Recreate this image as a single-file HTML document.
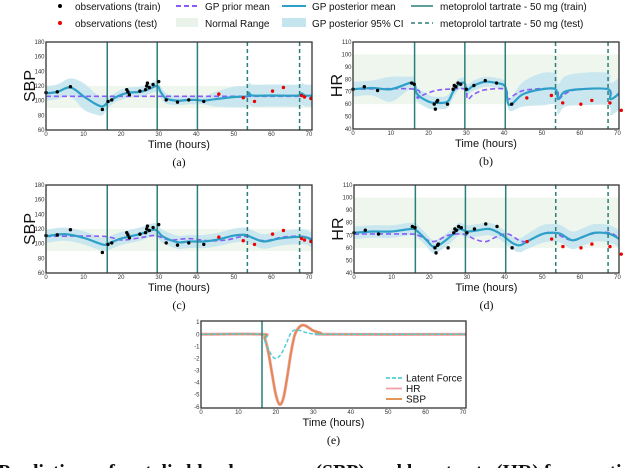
<!DOCTYPE html>
<html><head><meta charset="utf-8">
<style>
html,body{margin:0;padding:0;background:#fff;overflow:hidden;}
svg{display:block;font-family:"Liberation Sans",sans-serif;}
.tk{font-size:6px;fill:#333;}
.xl{font-size:11px;fill:#111;}
.cap{font-family:"Liberation Serif",serif;font-size:12px;fill:#111;}
.lg{font-size:10px;fill:#111;}
</style></head>
<body>
<svg id="fig" width="640" height="468" viewBox="0 0 640 468">
<g id="legend">
  <g><circle cx="60" cy="6" r="2" fill="#000"/><text class="lg" x="75" y="10">observations (train)</text></g>
  <g><circle cx="60" cy="23" r="2" fill="#e00"/><text class="lg" x="75" y="27">observations (test)</text></g>
  <g><line x1="176" y1="6" x2="198" y2="6" stroke="#8a5cf5" stroke-width="2" stroke-dasharray="5,3"/><text class="lg" x="205" y="10">GP prior mean</text></g>
  <g><rect x="176" y="18" width="22" height="9" fill="#e9f3ea"/><text class="lg" x="205" y="27">Normal Range</text></g>
  <g><line x1="282" y1="6" x2="306" y2="6" stroke="#2ea0c8" stroke-width="2"/><text class="lg" x="312" y="10">GP posterior mean</text></g>
  <g><rect x="282" y="18" width="24" height="9" fill="#c5e5ee"/><text class="lg" x="312" y="27">GP posterior 95% CI</text></g>
  <g><line x1="411" y1="6" x2="433" y2="6" stroke="#2a7f7a" stroke-width="1.5"/><text class="lg" x="440" y="10">metoprolol tartrate - 50 mg (train)</text></g>
  <g><line x1="411" y1="23" x2="433" y2="23" stroke="#2a7f7a" stroke-width="1.5" stroke-dasharray="4,3"/><text class="lg" x="440" y="27">metoprolol tartrate - 50 mg (test)</text></g>
</g>
</svg>
<script>
// ---------- data ----------
const treatTrain = [16.3, 29.6, 40.3];
const treatTest = [53.6, 67.5];
const treatE = [16.3];
const xTicks = [0,10,20,30,40,50,60,70];
const sbpTicks = [60,80,100,120,140,160,180];
const hrTicks = [40,50,60,70,80,90,100,110];
const forceTicks = [-6,-5,-4,-3,-2,-1,0,1];
const sbpNormal = [90,120];
const hrNormal = [60,100];

const sbpTrainT = [0,3,6.5,15,16.5,17.5,21.5,21.8,22.2,25,26.5,26.8,27,27.5,28.5,30,32,35,38,42];
const sbpTrainV = [111,112,119,88,99,101,115,112,108,113,115,120,124,118,122,126,101,98,101,99];
const sbpTestT = [46,52.5,55.5,60.3,63.2,68,68.8,70.5];
const sbpTestV = [109,104,99,113,118,107,105,103];
const hrTrainT = [0,3,6.5,15.5,16.2,21.5,21.8,22.2,22.4,25,26.5,26.8,27.2,27.8,28.5,30,32,35,38,42];
const hrTrainV = [72,74,71,77,76,60,56,62,63,60,72,75,74,77,76,72,75,79,77,60];
const hrTestT = [46,52.5,55.5,60.3,63.2,68,71];
const hrTestV = [65,67,61,60,63,61,55];

// panel (a)
const aPriorT = [0,71];
const aPriorV = [106,106];
const aPostT = [0,3,6.5,10,13,15,16.3,18,20,22,25,27,29.6,30.5,32,35,38,40,42,45,50,53.6,54,55,60,67.5,68,69,71];
const aPostV = [110,112,118,106,96,92,97,103,108,111,112,115,120,112,103,100,101,101,100,102,105,106,111,107,107,107,110,107,107];
const aCiT = [0,5,10,15,17,20,25,28,30,35,40,42,45,50,55,60,71];
const aCiW = [10,10,18,12,6,7,7,7,8,6,6,5,10,14,15,15,15];
// panel (b)
const bPriorT = [0,16.3,17,19,22,25,29.6,30.3,32,35,40.3,41,43,46,53.6,54.3,56,59,67.5,68.2,70,71];
const bPriorV = [72,72,65,68,71,72,72,64,68,71.5,72,64,68,71.5,72,64,68,71.5,72,64,68,70];
const bPostT = [0,5,10,15,16.3,17,20,22,25,26.5,28,29.6,30,32,35,38,40.3,41,42,45,50,53.6,54.3,56,60,67.5,68.2,71];
const bPostV = [72,73,72,77,76,68,62,61,62,70,76,77,71,75,78,77,74,61,60,68,72,72,64,70,72,72,64,70];
const bCiT = [0,5,8,12,15,18,22,26,30,35,38,41,45,50,55,60,67,71];
const bCiW = [6,6,10,10,5,6,5,5,4,4,4,4,10,13,12,13,13,13];
// panel (c)
const cPriorT = [0,15,20,25,29,33,38,43,48,53,58,63,68,71];
const cPriorV = [110,110,105,108,111,105,107,104,105,110,104,109,110,106];
const cPostT = [0,5,10,15,16.5,20,25,29,31,35,38,42,46,50,53,55,58,62,66,69,71];
const cPostV = [110,113,108,99,100,107,113,119,110,102,103,103,106,111,112,108,103,107,109,109,104];
const cCiT = [0,30,45,55,71];
const cCiW = [9,9,9,10,10];
// panel (d)
const dPriorT = [0,15,17,21,25,29,32,35,38,41,45,50,53,58,63,68,71];
const dPriorV = [71,71,70,65,70,71,67,65,69,71,65,71,72,66,71,72,66];
const dPostT = [0,5,10,15,16.5,19,21,23,26,28,30,33,36,39,42,44,46,50,53,55,58,61,64,68,71];
const dPostV = [72,73,73,75,74,67,61,63,70,75,73,74,75,71,64,62,65,71,72,71,66,69,72,71,66];
const dCiT = [0,30,42,50,71];
const dCiW = [5,5,5,7,7];
// panel (e)
const eT = [0,16.3,17,18,19,20,21,22,23,24,25,26,27,28,29,30,32,34,71];
const eForce = [0,0,-0.5,-1.2,-1.8,-2.0,-1.8,-1.3,-0.6,0.1,0.35,0.35,0.25,0.15,0.08,0.03,0,0,0];
const eResp = [0,0,-0.3,-1.5,-3.3,-5.0,-5.8,-5.3,-3.6,-1.6,-0.1,0.5,0.75,0.7,0.5,0.3,0.1,0,0];

// ---------- drawing ----------
const NS = "http://www.w3.org/2000/svg";
const fig = document.getElementById('fig');
function mk(tag, attrs, parent){
  const e = document.createElementNS(NS, tag);
  for (const k in attrs) e.setAttribute(k, attrs[k]);
  (parent||fig).appendChild(e);
  return e;
}
function interp(ts, vs, t){
  if (t <= ts[0]) return vs[0];
  for (let i=1;i<ts.length;i++){
    if (t <= ts[i]){ const f=(t-ts[i-1])/(ts[i]-ts[i-1]); return vs[i-1]+f*(vs[i]-vs[i-1]); }
  }
  return vs[vs.length-1];
}
function smoothPath(pts){
  let d = "M"+pts[0][0].toFixed(2)+","+pts[0][1].toFixed(2);
  for (let i=0;i<pts.length-1;i++){
    const p0=pts[Math.max(0,i-1)], p1=pts[i], p2=pts[i+1], p3=pts[Math.min(pts.length-1,i+2)];
    const c1=[p1[0]+(p2[0]-p0[0])/6, p1[1]+(p2[1]-p0[1])/6];
    const c2=[p2[0]-(p3[0]-p1[0])/6, p2[1]-(p3[1]-p1[1])/6];
    d += "C"+c1[0].toFixed(2)+","+c1[1].toFixed(2)+" "+c2[0].toFixed(2)+","+c2[1].toFixed(2)+" "+p2[0].toFixed(2)+","+p2[1].toFixed(2);
  }
  return d;
}
let clipId = 0;
function panel(o){
  const g = mk('g', {});
  
  
  const sx = t => o.L + (t - 0) / (o.xmax) * (o.R - o.L);
  const sy = v => o.B - (v - o.ymin) / (o.ymax - o.ymin) * (o.B - o.T);
  const cid = 'clip' + (clipId++);
  const cp = mk('clipPath', {id: cid}, g);
  mk('rect', {x:o.L, y:o.T, width:o.R-o.L, height:o.B-o.T}, cp);
  const inner = mk('g', {'clip-path':'url(#'+cid+')'}, g);
  if (o.normal){
    const nr = mk('rect', {x:o.L, y:sy(o.normal[1]), width:o.R-o.L, height:sy(o.normal[0])-sy(o.normal[1]), fill:'#eef6ee'}, inner);
    
    
  }
  if (o.ciT){
    const up=[], lo=[];
    for (let i=0;i<o.postT.length;i++){
      const t=o.postT[i], w=interp(o.ciT,o.ciW,t);
      up.push([sx(t), sy(o.postV[i]+w)]); lo.push([sx(t), sy(o.postV[i]-w)]);
    }
    lo.reverse();
    let d = smoothPath(up) + smoothPath(lo).replace('M','L') + 'Z';
    const ci = mk('path', {d:d, fill:'#c5e5ee', opacity:'0.9'}, inner);
    
    
  }
  (o.lines||[]).forEach(ln => {
    const pts = ln.t.map((t,i)=>[sx(t), sy(ln.v[i])]);
    const p = mk('path', {d:smoothPath(pts), fill:'none', stroke:ln.color, 'stroke-width':ln.w, 'stroke-dasharray':ln.dash||'none'}, inner);
    
    
  });
  (o.treat||treatTrain).forEach(t => {
    const l = mk('line', {x1:sx(t), x2:sx(t), y1:o.T, y2:o.B, stroke:'#2a7f7a', 'stroke-width':1.5}, g);
    
    
  });
  if (o.testLines) treatTest.forEach(t => {
    const l = mk('line', {x1:sx(t), x2:sx(t), y1:o.T, y2:o.B, stroke:'#2a7f7a', 'stroke-width':1.5, 'stroke-dasharray':'4,3'}, g);
    
    
  });
  if (o.trainT){
    o.trainT.forEach((t,i)=>{
      const c = mk('circle', {cx:sx(t), cy:sy(o.trainV[i]), r:1.7, fill:'#000'}, g);
      
      
    });
    o.testT.forEach((t,i)=>{
      const c = mk('circle', {cx:sx(t), cy:sy(o.testV[i]), r:1.7, fill:'#e00'}, g);
      
      
    });
  }
  const fr = mk('rect', {x:o.L, y:o.T, width:o.R-o.L, height:o.B-o.T, fill:'none', stroke:'#333', 'stroke-width':1.3}, g);
  
  
  xTicks.forEach(t => {
    const tx = mk('text', {x:sx(t), y:o.B+6, 'text-anchor':'middle', class:'tk'}, g);
    tx.textContent = t;
    
    
  });
  o.yTicks.forEach(v => {
    const tx = mk('text', {x:o.L-1.5, y:sy(v)+2, 'text-anchor':'end', class:'tk'}, g);
    tx.textContent = v;
    
    
  });
  const xt = mk('text', {x:(o.L+o.R)/2, y:o.B+18, 'text-anchor':'middle', class:'xl'}, g);
  xt.textContent = 'Time (hours)';
  
  
  if (o.ylabel){
    const cy=(o.T+o.B)/2, cx=o.L-11;
    const yt = mk('text', {x:cx, y:cy, 'text-anchor':'middle', transform:'rotate(-90 '+cx+' '+cy+')', style:'font-size:16px', fill:'#111'}, g);
    yt.textContent = o.ylabel;
    
    
  }
  const cap = mk('text', {x:(o.L+o.R)/2, y:o.B+36, 'text-anchor':'middle', class:'cap'}, g);
  cap.textContent = o.cap;
  
  
  if (o.legend){
    const lg = mk('g', {}, g);
    
    
    const items = [['Latent Force','#4fd0d8','4,2'],['HR','#f4a0a8','none'],['SBP','#e08a45','none']];
    items.forEach((it,i)=>{
      const y = 378 + i*10.5;
      mk('line', {x1:386, x2:402, y1:y, y2:y, stroke:it[1], 'stroke-width':1.8, 'stroke-dasharray':it[2]}, lg);
      const t = mk('text', {x:406, y:y+3.5, class:'lg'}, lg);
      t.textContent = it[0];
    });
  }
}
const POST='#2ea0c8', PRIOR='#8a5cf5';
panel({name:'panel-a-sbp', L:46,T:42,R:312,B:130, xmax:70.8, ymin:60,ymax:180, yTicks:sbpTicks, normal:sbpNormal,
  postT:aPostT, postV:aPostV, ciT:aCiT, ciW:aCiW,
  lines:[{t:aPriorT,v:aPriorV,color:PRIOR,w:1.6,dash:'5,3',name:'prior-mean-line'},{t:aPostT,v:aPostV,color:POST,w:2.2,name:'posterior-mean-line'}],
  trainT:sbpTrainT, trainV:sbpTrainV, testT:sbpTestT, testV:sbpTestV, testLines:true, ylabel:'SBP', cap:'(a)'});
panel({name:'panel-b-hr', L:353,T:42,R:619,B:129, xmax:70.4, ymin:40,ymax:110, yTicks:hrTicks, normal:hrNormal,
  postT:bPostT, postV:bPostV, ciT:bCiT, ciW:bCiW,
  lines:[{t:bPriorT,v:bPriorV,color:PRIOR,w:1.6,dash:'5,3',name:'prior-mean-line'},{t:bPostT,v:bPostV,color:POST,w:2.2,name:'posterior-mean-line'}],
  trainT:hrTrainT, trainV:hrTrainV, testT:hrTestT, testV:hrTestV, testLines:true, ylabel:'HR', cap:'(b)'});
panel({name:'panel-c-sbp', L:46,T:185,R:312,B:273, xmax:70.8, ymin:60,ymax:180, yTicks:sbpTicks, normal:sbpNormal,
  postT:cPostT, postV:cPostV, ciT:cCiT, ciW:cCiW,
  lines:[{t:cPriorT,v:cPriorV,color:PRIOR,w:1.6,dash:'5,3',name:'prior-mean-line'},{t:cPostT,v:cPostV,color:POST,w:2.2,name:'posterior-mean-line'}],
  trainT:sbpTrainT, trainV:sbpTrainV, testT:sbpTestT, testV:sbpTestV, testLines:true, ylabel:'SBP', cap:'(c)'});
panel({name:'panel-d-hr', L:354,T:185,R:619,B:273, xmax:70.4, ymin:40,ymax:110, yTicks:hrTicks, normal:hrNormal,
  postT:dPostT, postV:dPostV, ciT:dCiT, ciW:dCiW,
  lines:[{t:dPriorT,v:dPriorV,color:PRIOR,w:1.6,dash:'5,3',name:'prior-mean-line'},{t:dPostT,v:dPostV,color:POST,w:2.2,name:'posterior-mean-line'}],
  trainT:hrTrainT, trainV:hrTrainV, testT:hrTestT, testV:hrTestV, testLines:true, ylabel:'HR', cap:'(d)'});
panel({name:'panel-e-latent-force', L:201,T:321,R:466,B:408, xmax:70.8, ymin:-6.1,ymax:1.1, yTicks:forceTicks, treat:treatE,
  lines:[{t:eT,v:eResp,color:'#f4a0a8',w:3,name:'hr-response-line'},{t:eT,v:eResp,color:'#e08a45',w:1.6,name:'sbp-response-line'},{t:eT,v:eForce,color:'#4fd0d8',w:1.5,dash:'4,2',name:'latent-force-line'}],
  testLines:false, cap:'(e)', legend:true});
const fc = mk('text', {x:-2, y:478, style:'font-family:"Liberation Serif",serif;font-weight:bold;font-size:20px', fill:'#111', textLength:'650'});
fc.textContent = 'Predictions of systolic blood pressure (SBP) and heart rate (HR) for a patient';


</script>
</body></html>
